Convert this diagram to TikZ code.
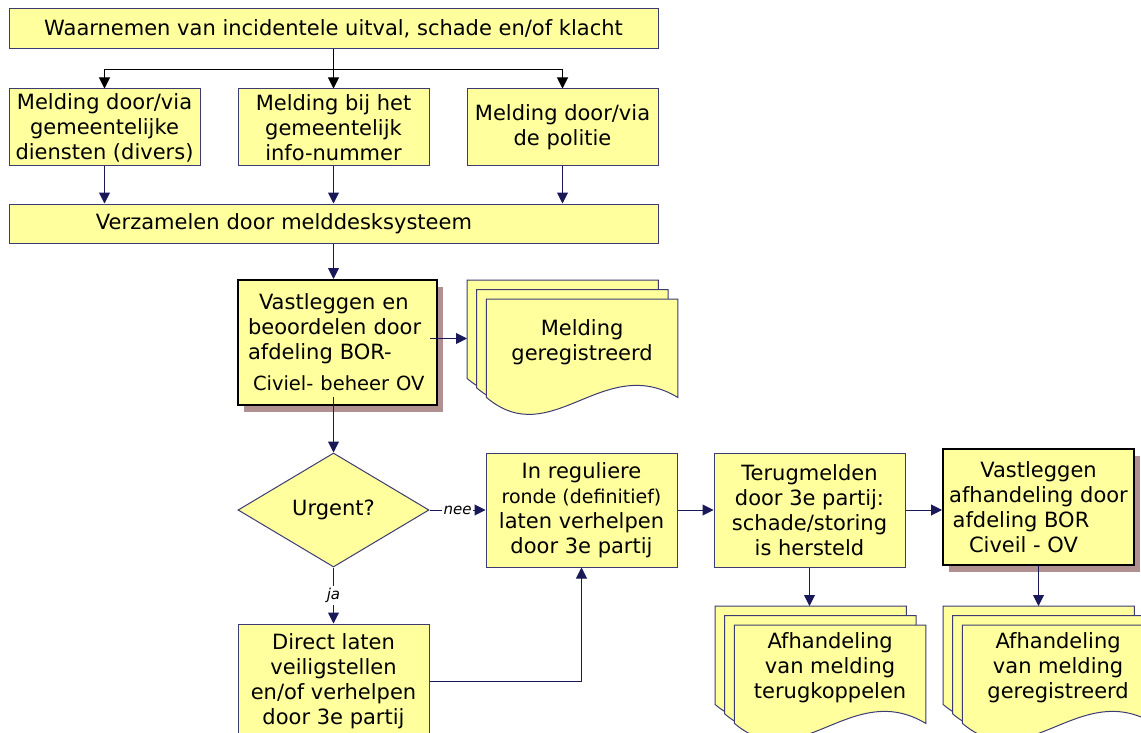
\documentclass[tikz,border=0pt]{standalone}
\usepackage{fontspec}
\setmainfont{DejaVu Sans}
\usepackage{tikz}
\usetikzlibrary {
  positioning,
  shapes.geometric,
  shadows,
  arrows.meta,
  calc,
}
\definecolor{geel}{RGB}{255,255,158}
\definecolor{rand}{RGB}{60,60,115}
\definecolor{lijn}{RGB}{25,25,90}
\definecolor{schaduw}{RGB}{176,144,144}
\tikzset{
  box/.style = {
    rectangle,
    draw = rand,
    fill = geel,
    line width = 1pt,
    minimum width = 191pt,
    inner sep = 0pt,
    align = center,
    font = \fontsize{21}{25}\selectfont
  },
  boxs/.style = {
    box,
    draw = black,
    line width = 2pt,
    drop shadow = {shadow xshift = 6pt, shadow yshift = -7pt,
      fill = schaduw, opacity = 1}
  },
  keuze/.style = {
    diamond,
    draw = rand,
    fill = geel,
    line width = 1pt,
    minimum width = 191pt,
    minimum height = 114pt,
    inner sep = 0pt,
    font = \fontsize{21}{25}\selectfont
  },
  sheet/.style = {
    rectangle,
    anchor = north west,
    minimum width = 191pt,
    minimum height = 98pt,
    inner sep = 0pt
  },
  docline/.style = {
    draw = rand,
    fill = geel,
    line width = 1pt
  },
  doctext/.style = {
    align = center,
    inner sep = 0pt,
    font = \fontsize{21}{25}\selectfont
  },
  con/.style = {
    -{Triangle[width = 11pt, length = 11pt]},
    draw = lijn,
    line width = 1pt
  },
  conb/.style = {
    con,
    draw = black
  },
  lbl/.style = {
    fill = white,
    inner sep = 2pt,
    font = \fontsize{15}{18}\selectfont\itshape
  }
}
\newcommand{\docstack}[4]{
  \foreach \k in {0,1,2} {
    \node[sheet] (#1-\k) at ({#2+9.7*\k},{#3+9.5*\k}) {};
    \draw[docline] (#1-\k.north west) -- (#1-\k.south west)
      .. controls +(65,55) and +(-75,-45) .. (#1-\k.south east)
      -- (#1-\k.north east) -- cycle;
  }
  \node[doctext] (#1-t) at ($(#1-2.center)+(0,-6)$) {#4};
}

\begin{document}
\begin{tikzpicture}[x = 1pt, y = -1pt]
  \useasboundingbox (0,0) rectangle (1141,733);

  % Waarneming en meldingen.
  \node[box, minimum width = 649pt, minimum height = 40pt] (W) at (333.5,29)
    {Waarnemen van incidentele uitval, schade en/of klacht};
  \node[box, minimum height = 77pt] (M1) at (104.5,127.5)
    {Melding door/via\\gemeentelijke\\diensten (divers)};
  \node[box, minimum height = 77pt] (M2) at (333.5,127.5)
    {Melding bij het\\gemeentelijk\\info-nummer};
  \node[box, minimum height = 77pt] (M3) at (562.5,127.5)
    {Melding door/via\\de politie};
  \node[box, minimum width = 649pt, minimum height = 39pt,
    text width = 649pt, align = left] (V) at (333.5,223.5)
    {\hspace*{87pt}Verzamelen door melddesksysteem};

  % Registratie.
  \node[boxs, minimum width = 199pt, minimum height = 125pt,
    text width = 199pt, align = left] (VB) at (337.5,342.5)
    {\hspace*{21pt}Vastleggen en\\
     \hspace*{10pt}beoordelen door\\
     \hspace*{10pt}afdeling BOR-\\[6pt]
     \hspace*{15pt}\rlap{\fontsize{19.5}{25}\selectfont Civiel- beheer OV}};
  \docstack{MG}{467}{280}{Melding\\geregistreerd}

  % Afhandeling.
  \node[keuze] (U) at (333.5,510) {Urgent?};
  \node[box, minimum height = 114pt] (IR) at (581.5,510)
    {In reguliere\\{\fontsize{19}{25}\selectfont ronde (definitief)}\\laten verhelpen\\door 3e partij};
  \node[box, minimum height = 114pt] (DL) at (333.5,681)
    {Direct laten\\veiligstellen\\en/of verhelpen\\door 3e partij};
  \node[box, minimum height = 114pt] (TM) at (809.5,510)
    {Terugmelden\\door 3e partij:\\schade/storing\\is hersteld};
  \node[boxs, minimum height = 116pt] (VA) at (1038.5,507)
    {Vastleggen\\afhandeling door\\afdeling BOR\makebox[35pt]{}\\Civeil - OV\makebox[30pt]{}};
  \docstack{TA}{715}{606}{Afhandeling\\van melding\\terugkoppelen}
  \docstack{AG}{943}{606}{Afhandeling\\van melding\\geregistreerd}

  % Verbindingen.
  \coordinate (split) at ($(W.south)+(0,20)$);
  \draw[conb] (W.south) -- (M2.north);
  \draw[conb] (split) -| (M1.north);
  \draw[conb] (split) -| (M3.north);
  \draw[con] (M1.south) -- (M1.south |- V.north);
  \draw[con] (M2.south) -- (M2.south |- V.north);
  \draw[con] (M3.south) -- (M3.south |- V.north);
  \draw[con] (V.south) -- (V.south |- VB.north);
  \draw[con] ($(VB.east)+(-8,-4)$) -- ($(VB.east -| MG-0.west)+(0,-4)$);
  \draw[con] ($(U.north |- VB.south)+(0,-9)$) -- (U.north);
  \draw[con] (U.east) -- node[lbl] (nee) {nee} (IR.west);
  \draw[con] (U.south) -- node[lbl] (ja) {ja} (DL.north);
  \draw[con] (DL.east) -| (IR.south);
  \draw[con] (IR.east) -- (TM.west);
  \draw[con] (TM.east) -- (TM.east -| VA.west);
  \draw[con] (TM.south) -- (TM.south |- TA-0.north);
  \draw[con] (VA.south) -- (VA.south |- AG-0.north);
\end{tikzpicture}
\end{document}
